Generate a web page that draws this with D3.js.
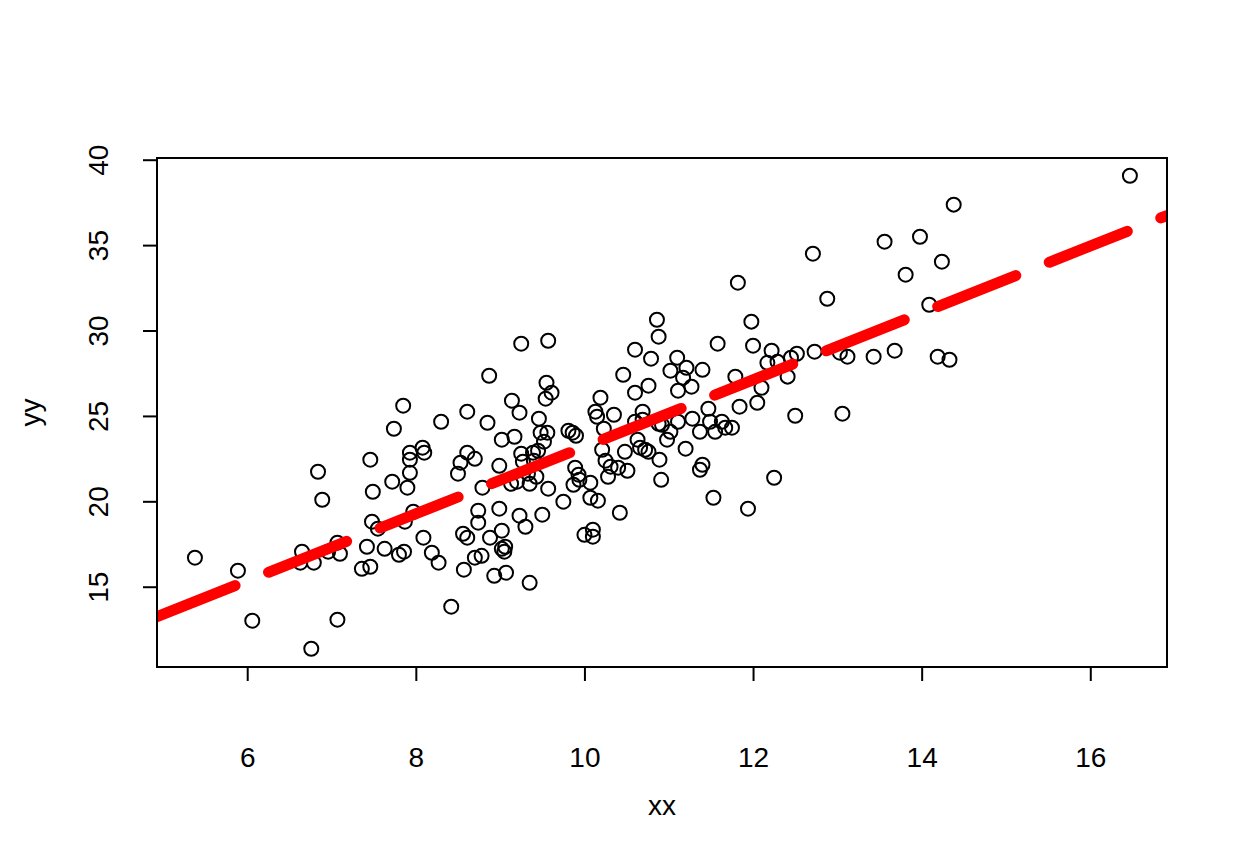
<!DOCTYPE html>
<html>
<head>
<meta charset="utf-8">
<script src="https://cdn.jsdelivr.net/npm/d3@7.9.0/dist/d3.min.js"></script>
<style>
  body { margin: 0; background: #fff; }
  svg text { font-family: "Liberation Sans", Arial, Helvetica, sans-serif; fill: #000; }
</style>
</head>
<body>
<svg id="chart" width="1248" height="864"></svg>
<script>
// scatter data
const xx = [
  5.38, 5.89, 6.06, 6.65, 6.63, 6.79, 6.76, 6.84, 6.89, 6.96,
  7.07, 7.10, 7.07, 7.36, 7.46, 7.42, 7.46, 7.49, 7.48, 7.55,
  7.63, 7.72, 7.74, 7.80, 7.86, 7.85, 7.87, 7.90, 7.97, 7.93,
  7.93, 7.93, 8.08, 8.10, 8.09, 8.19, 8.27, 8.30, 8.42, 8.50,
  8.53, 8.56, 8.61, 8.57, 8.61, 8.61, 8.70, 8.70, 8.78, 8.74,
  8.74, 8.79, 8.85, 8.87, 8.88, 8.93, 8.99, 8.99, 9.02, 9.02,
  9.02, 9.05, 9.06, 9.07, 9.13, 9.14, 9.17, 9.20, 9.23, 9.25,
  9.25, 9.23, 9.27, 9.30, 9.33, 9.35, 9.35, 9.39, 9.40, 9.43,
  9.45, 9.46, 9.48, 9.50, 9.52, 9.56, 9.55, 9.61, 9.54, 9.57,
  9.57, 9.75, 9.81, 9.86, 9.90, 9.89, 9.93, 9.94, 9.87, 10.00,
  10.07, 10.07, 10.10, 10.10, 10.13, 10.15, 10.16, 10.19, 10.21, 10.25,
  10.23, 10.31, 10.28, 10.35, 10.40, 10.42, 10.46, 10.48, 10.51, 10.60,
  10.60, 10.60, 10.63, 10.66, 10.69, 10.69, 10.72, 10.76, 10.76, 10.79,
  10.86, 10.88, 10.88, 10.89, 10.91, 10.92, 10.98, 11.02, 11.02, 11.10,
  11.11, 11.11, 11.17, 11.20, 11.21, 11.27, 11.28, 11.37, 11.37, 11.40,
  11.40, 11.47, 11.49, 11.53, 11.55, 11.58, 11.63, 11.67, 11.75, 11.79,
  11.82, 11.84, 11.94, 11.98, 12.00, 12.05, 12.10, 12.17, 12.22, 12.25,
  12.29, 12.41, 12.45, 12.50, 12.52, 12.71, 12.73, 12.88, 13.03, 13.06,
  13.12, 13.43, 13.56, 13.68, 13.81, 13.98, 14.09, 14.19, 14.24, 14.33,
  14.38, 16.47
];
const yy = [
  16.70, 15.94, 13.01, 17.05, 16.41, 16.41, 11.37, 21.73, 20.09, 17.05,
  17.58, 16.93, 13.07, 16.05, 16.17, 17.34, 22.44, 20.56, 18.81, 18.40,
  17.22, 21.15, 24.25, 16.87, 17.05, 25.60, 18.81, 20.80, 19.39, 22.85,
  22.44, 21.67, 23.14, 22.85, 17.87, 16.99, 16.41, 24.66, 13.83, 21.62,
  22.26, 18.10, 17.87, 16.00, 25.25, 22.85, 22.49, 16.70, 16.81, 19.45,
  18.75, 20.80, 24.60, 27.35, 17.87, 15.64, 22.08, 19.57, 23.61, 18.28,
  17.22, 17.05, 17.34, 15.82, 21.03, 25.89, 23.78, 21.15, 25.19, 29.23,
  22.79, 19.16, 22.32, 18.51, 21.62, 21.03, 15.23, 22.85, 22.38, 21.44,
  22.96, 24.84, 24.02, 19.22, 23.49, 24.02, 26.94, 26.36, 26.01, 29.40,
  20.74, 19.98, 24.13, 24.02, 23.84, 21.97, 21.56, 21.26, 20.97, 18.04,
  21.09, 20.21, 18.34, 17.93, 25.25, 24.95, 20.04, 26.07, 23.02, 22.38,
  24.25, 22.03, 21.44, 25.07, 21.97, 19.33, 27.41, 22.90, 21.79, 28.88,
  26.36, 24.66, 23.61, 23.14, 25.25, 24.78, 23.02, 26.77, 22.90, 28.35,
  30.63, 29.64, 24.54, 22.44, 21.26, 24.48, 23.61, 24.07, 27.65, 28.41,
  26.48, 24.66, 27.24, 23.08, 27.82, 26.71, 24.84, 24.07, 21.85, 22.14,
  27.70, 25.42, 24.66, 20.21, 24.07, 29.23, 24.66, 24.31, 24.31, 27.30,
  32.80, 25.54, 19.57, 30.52, 29.11, 25.77, 26.65, 28.11, 28.82, 21.38,
  28.17, 27.30, 28.41, 25.01, 28.64, 34.50, 28.76, 31.86, 28.70, 25.13,
  28.47, 28.47, 35.20, 28.82, 33.27, 35.49, 31.51, 28.47, 34.03, 28.29,
  37.37, 39.06
];

// fitted line y = a + b * x
const intercept = 3.59;
const slope = 1.96;

const xTicks = [6, 8, 10, 12, 14, 16];
const yTicks = [15, 20, 25, 30, 35, 40];
const xLim = [4.93, 16.91];
const yLim = [10.3, 40.1];

const svg = d3.select('#chart');
const plotLeft = 157, plotRight = 1167, plotTop = 158, plotBottom = 667;
const fontSize = '28px';

const x = d3.scaleLinear().domain(xLim).range([plotLeft, plotRight]);
const y = d3.scaleLinear().domain(yLim).range([plotBottom, plotTop]);

svg.append('clipPath').attr('id', 'plot-clip')
  .append('rect')
  .attr('x', plotLeft).attr('y', plotTop)
  .attr('width', plotRight - plotLeft).attr('height', plotBottom - plotTop);

// points
svg.append('g')
  .selectAll('circle')
  .data(d3.zip(xx, yy))
  .join('circle')
  .attr('cx', (d) => x(d[0]))
  .attr('cy', (d) => y(d[1]))
  .attr('r', 7)
  .attr('fill', 'none')
  .attr('stroke', '#000')
  .attr('stroke-width', 2);

// regression line, dashed, clipped to the plot region
svg.append('line')
  .attr('clip-path', 'url(#plot-clip)')
  .attr('x1', x(xLim[0])).attr('y1', y(intercept + slope * xLim[0]))
  .attr('x2', x(xLim[1])).attr('y2', y(intercept + slope * xLim[1]))
  .attr('stroke', '#ff0000')
  .attr('stroke-width', 11)
  .attr('stroke-linecap', 'round')
  .attr('stroke-dasharray', '84 36');

// box
svg.append('rect')
  .attr('x', plotLeft).attr('y', plotTop)
  .attr('width', plotRight - plotLeft).attr('height', plotBottom - plotTop)
  .attr('fill', 'none')
  .attr('stroke', '#000')
  .attr('stroke-width', 2);

// axes, R style
const xAxis = svg.append('g')
  .attr('transform', `translate(0,${plotBottom})`)
  .call(d3.axisBottom(x).tickValues(xTicks).tickSize(14).tickFormat(d3.format('d')));
const yAxis = svg.append('g')
  .attr('transform', `translate(${plotLeft},0)`)
  .call(d3.axisLeft(y).tickValues(yTicks).tickSize(14).tickFormat(d3.format('d')));

[xAxis, yAxis].forEach((g) => {
  g.attr('font-size', null).attr('font-family', null);
  g.select('.domain').remove();
  g.selectAll('line').attr('stroke', '#000').attr('stroke-width', 2);
  g.selectAll('text').style('font-size', fontSize).attr('fill', '#000');
});

xAxis.append('line')
  .attr('x1', x(xTicks[0])).attr('x2', x(xTicks[xTicks.length - 1]))
  .attr('stroke', '#000').attr('stroke-width', 2);
yAxis.append('line')
  .attr('y1', y(yTicks[0])).attr('y2', y(yTicks[yTicks.length - 1]))
  .attr('stroke', '#000').attr('stroke-width', 2);

// rotated y tick labels
yAxis.selectAll('.tick text')
  .attr('x', null).attr('dy', null)
  .attr('text-anchor', 'middle')
  .attr('transform', 'translate(-59,0) rotate(-90)')
  .attr('dominant-baseline', 'central');

xAxis.selectAll('.tick text').attr('dy', null).attr('y', 90).attr('dominant-baseline', 'central');

svg.append('text')
  .attr('x', (plotLeft + plotRight) / 2).attr('y', 805)
  .attr('text-anchor', 'middle').attr('dominant-baseline', 'central')
  .style('font-size', fontSize)
  .text('xx');

svg.append('text')
  .attr('transform', `translate(30,${(plotTop + plotBottom) / 2}) rotate(-90)`)
  .attr('text-anchor', 'middle').attr('dominant-baseline', 'central')
  .style('font-size', fontSize)
  .text('yy');
</script>
</body>
</html>
